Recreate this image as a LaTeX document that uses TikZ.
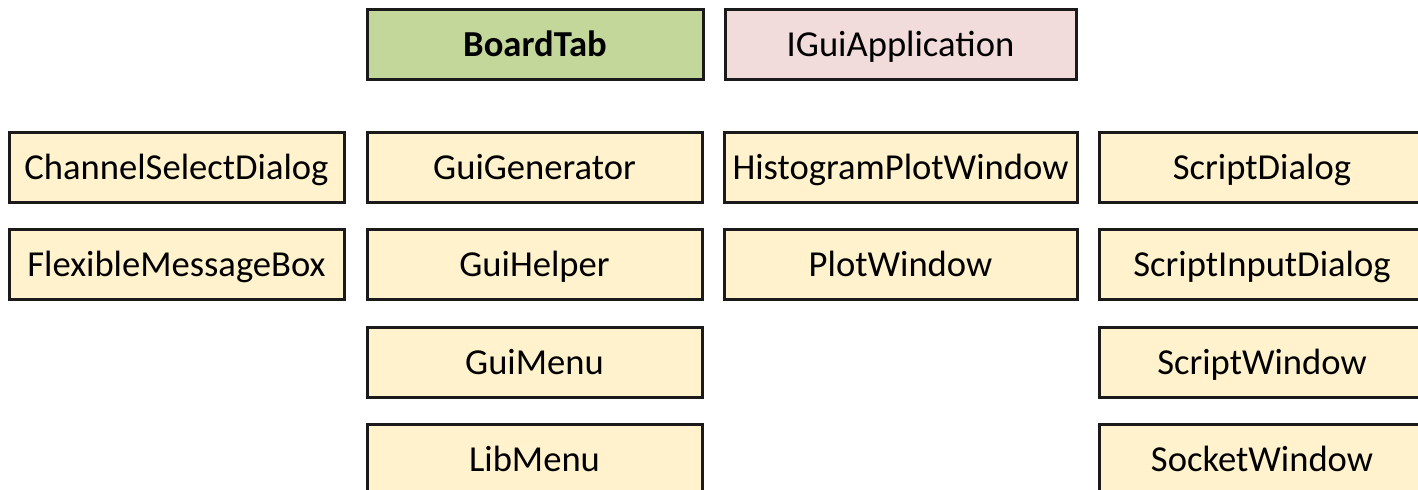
\documentclass[tikz,border=0pt]{standalone}
\usepackage{fontspec}
\setmainfont{Carlito}
\definecolor{boxfill}{HTML}{FFF2CC}
\definecolor{mainfill}{HTML}{C4D79B}
\definecolor{ifacefill}{HTML}{F2DCDB}
\definecolor{edge}{HTML}{1A1A1A}
\tikzset{
  cls/.style={draw=edge, line width=1.5pt, fill=boxfill, minimum height=35pt,
    inner sep=0pt, text height=12pt, text depth=0pt,
    font=\fontsize{18.3}{22}\selectfont, text=black},
  mainbox/.style={cls, fill=mainfill, font=\fontsize{18.3}{22}\selectfont\bfseries},
  ifacebox/.style={cls, fill=ifacefill},
}
\begin{document}
\begin{tikzpicture}[x=0.5pt, y=-0.5pt]
  \useasboundingbox (0,0) rectangle (1418,489);
  \clip (0,0) rectangle (1418,489);
  \fill[white] (0,0) rectangle (1418,489);

  % top row
  \node[mainbox, minimum width=168pt] (boardtab) at (535,44) {BoardTab};
  \node[ifacebox, minimum width=175.5pt] (igui) at (900.5,44) {IGuiApplication};

  % dialogs
  \node[cls, minimum width=167.5pt] (chsel) at (176.5,167) {ChannelSelectDialog};
  \node[cls, minimum width=167.5pt] (flexmsg) at (176.5,264) {FlexibleMessageBox};

  % gui helpers
  \node[cls, minimum width=167.5pt] (guigen) at (534.5,167) {GuiGenerator};
  \node[cls, minimum width=167.5pt] (guihelp) at (534.5,264) {GuiHelper};
  \node[cls, minimum width=167.5pt] (guimenu) at (534.5,362) {GuiMenu};
  \node[cls, minimum width=167.5pt] (libmenu) at (534.5,459) {LibMenu};

  % plots
  \node[cls, minimum width=176.5pt] (histplot) at (900.5,167) {HistogramPlotWindow};
  \node[cls, minimum width=176.5pt] (plotwin) at (900.5,264) {PlotWindow};

  % scripting
  \node[cls, minimum width=163pt] (scriptdlg) at (1262,167) {ScriptDialog};
  \node[cls, minimum width=163pt] (scriptin) at (1262,264) {ScriptInputDialog};
  \node[cls, minimum width=163pt] (scriptwin) at (1262,362) {ScriptWindow};
  \node[cls, minimum width=163pt] (sockwin) at (1262,459) {SocketWindow};
\end{tikzpicture}
\end{document}
